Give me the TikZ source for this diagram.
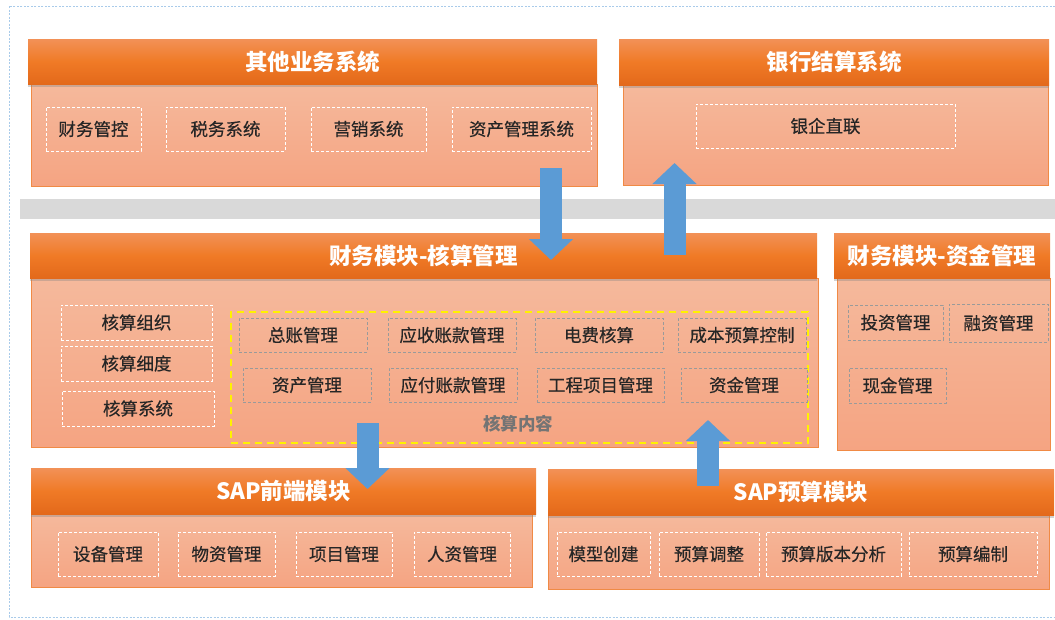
\documentclass[tikz,border=0pt]{standalone}
\usepackage{fontspec}
\setmainfont{Noto Sans CJK SC}
\newfontfamily\subfont{Noto Sans CJK SC}[FakeBold=0.35]
\usetikzlibrary{arrows.meta,shadows}

\definecolor{hdrtop}{HTML}{F29157}
\definecolor{hdrmid}{HTML}{F07A26}
\definecolor{hdrbot}{HTML}{E3691B}
\definecolor{bodytop}{HTML}{F5B99C}
\definecolor{bodybot}{HTML}{F5A482}
\definecolor{bodyline}{HTML}{F08A45}
\definecolor{flowblue}{HTML}{5B9BD5}
\definecolor{bandgray}{HTML}{D9D9D9}
\definecolor{frameblue}{HTML}{A9CBEA}
\definecolor{txtdark}{HTML}{262626}
\definecolor{subgray}{HTML}{9A9A9A}

\tikzset{
  sz/.style 2 args={minimum width=#1pt, minimum height=#2pt},
  panelhdr/.style={draw=none, top color=hdrtop, bottom color=hdrbot, middle color=hdrmid,
    text=white, font=\fontsize{22.5}{25}\selectfont\bfseries, inner sep=0pt,
    drop shadow={shadow xshift=0pt, shadow yshift=-2.5pt, opacity=.35}},
  panelbody/.style={draw=bodyline, line width=.8pt, top color=bodytop, bottom color=bodybot, inner sep=0pt},
  wbox/.style={draw=white, line width=.9pt, dash pattern=on 3pt off 2pt, inner sep=0pt,
    text=txtdark, font=\subfont\fontsize{17.5}{20}\selectfont},
  gbox/.style={wbox, draw=subgray},
  hsarea/.style={draw=yellow, line width=2pt, dash pattern=on 7pt off 5pt, inner sep=0pt},
  flowarrow/.style={draw=flowblue, line width=22pt, -{Triangle[width=43pt,length=21pt]}},
}

\begin{document}
\begin{tikzpicture}[x=1pt, y=-1pt]
  \useasboundingbox (0,0) rectangle (1055,619);
  % frame and middle band
  \draw[frameblue, line width=.8pt, dash pattern=on 2pt off 1.5pt] (9,6) rectangle (1062,617);
  \fill[bandgray] (20,199) rectangle (1060,219);

  % other business systems
  \node[panelbody, sz={566}{102}] (otherbody) at (314,135) {};
  \node[panelhdr, sz={569}{45}] (otherhdr) at (312.5,61.5) {其他业务系统};
  \node[wbox, sz={95}{44}] (cwgk) at (93.5,129) {财务管控};
  \node[wbox, sz={119}{44}] (swxt) at (225.5,129) {税务系统};
  \node[wbox, sz={115}{44}] (yxxt) at (368.5,129) {营销系统};
  \node[wbox, sz={139}{44}] (zcglxt) at (521.5,129) {资产管理系统};

  % bank settlement
  \node[panelbody, sz={425}{100}] (bankbody) at (835.5,135) {};
  \node[panelhdr, sz={430}{46}] (bankhdr) at (834,62) {银行结算系统};
  \node[wbox, sz={259}{44}] (yqzl) at (825.5,126) {银企直联};

  % accounting module
  \node[panelbody, sz={787}{169}] (acctbody) at (424.5,362.5) {};
  \node[panelhdr, sz={787}{45}] (accthdr) at (423.5,255.5) {财务模块-核算管理};
  \node[wbox, sz={151}{35}] (hszz) at (136.5,322.5) {核算组织};
  \node[wbox, sz={151}{35}] (hsxd) at (136.5,363.5) {核算细度};
  \node[wbox, sz={152}{35}] (hsxt) at (138,408.5) {核算系统};
  \node[hsarea, sz={577}{131}] (hsnr) at (519.5,377.5) {};
  \node[gbox, sz={128}{34}] (zzgl) at (303,335) {总账管理};
  \node[gbox, sz={128}{34}] (yszk) at (452,335) {应收账款管理};
  \node[gbox, sz={128}{34}] (dfhs) at (599,335) {电费核算};
  \node[gbox, sz={128}{34}] (cbys) at (742,335) {成本预算控制};
  \node[gbox, sz={128}{34}] (zcgl) at (307,385) {资产管理};
  \node[gbox, sz={128}{34}] (yfzk) at (453,385) {应付账款管理};
  \node[gbox, sz={127}{34}] (gcxm) at (600.5,385) {工程项目管理};
  \node[gbox, sz={126}{34}] (zjgl) at (744,385) {资金管理};
  \node[text=subgray!75!black, font=\fontsize{17.5}{20}\selectfont\bfseries] (hsnrlbl) at (518,424) {核算内容};

  % fund module
  \node[panelbody, sz={213}{172}] (fundbody) at (943.5,364) {};
  \node[panelhdr, sz={216}{45}] (fundhdr) at (942,255.5) {财务模块-资金管理};
  \node[gbox, sz={95}{35}] (tzgl) at (895.5,322.5) {投资管理};
  \node[gbox, sz={99}{38}] (rzgl) at (998.5,323) {融资管理};
  \node[gbox, sz={97}{35}] (xjgl) at (897.5,385.5) {现金管理};

  % SAP front end
  \node[panelbody, sz={501}{73}] (frontbody) at (281.5,550.5) {};
  \node[panelhdr, sz={505}{46}] (fronthdr) at (283.5,491) {SAP前端模块};
  \node[wbox, sz={100}{44}] (sbgl) at (108,554) {设备管理};
  \node[wbox, sz={97}{44}] (wzgl) at (226.5,554) {物资管理};
  \node[wbox, sz={96}{44}] (xmgl) at (344,554) {项目管理};
  \node[wbox, sz={96}{44}] (rzygl) at (462,554) {人资管理};

  % SAP budget
  \node[panelbody, sz={501}{74}] (budgetbody) at (798.5,552) {};
  \node[panelhdr, sz={506}{46}] (budgethdr) at (801,492) {SAP预算模块};
  \node[wbox, sz={93}{44}] (mxcj) at (603.5,554) {模型创建};
  \node[wbox, sz={100}{44}] (ystz) at (709,554) {预算调整};
  \node[wbox, sz={135}{44}] (ysbb) at (833.5,554) {预算版本分析};
  \node[wbox, sz={128}{44}] (ysbz) at (973,554) {预算编制};

  % flows
  \coordinate (othertail) at (551,168);
  \coordinate (accthead) at (551,260);
  \coordinate (accttail) at (674.5,255);
  \coordinate (bankhead) at (674.5,163);
  \coordinate (hsnrtail) at (367.5,423);
  \coordinate (fronthead) at (367.5,489);
  \coordinate (budgettail) at (708,486);
  \coordinate (hsnrhead) at (708,420);
  \draw[flowarrow] (othertail) -- (accthead);
  \draw[flowarrow] (accttail) -- (bankhead);
  \draw[flowarrow] (hsnrtail) -- (fronthead);
  \draw[flowarrow] (budgettail) -- (hsnrhead);
\end{tikzpicture}
\end{document}
